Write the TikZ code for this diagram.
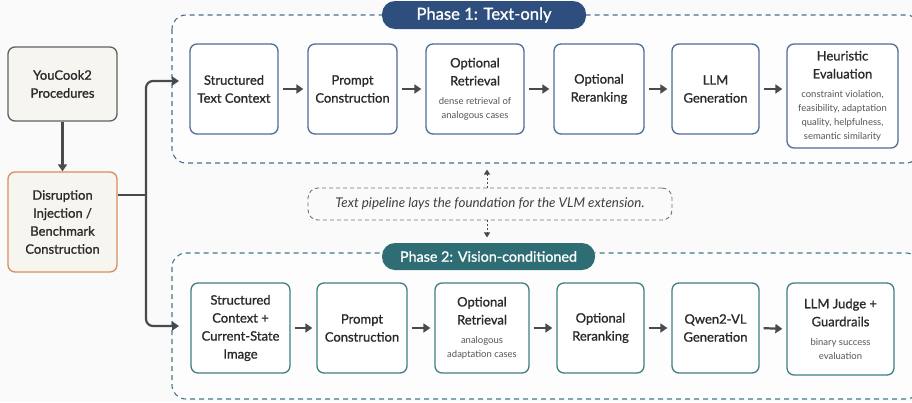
\documentclass[tikz,border=0pt]{standalone}
\usepackage{fontspec}
\usepackage{graphicx}
\setmainfont{Lato}
\newfontfamily\titlefont{Lato}[FakeBold=1]
\usetikzlibrary{arrows.meta}
\definecolor{pblue}{HTML}{2E4F7E}
\definecolor{bblue}{HTML}{4E6C97}
\definecolor{pteal}{HTML}{2E6D74}
\definecolor{bteal}{HTML}{3F7E86}
\definecolor{darr}{HTML}{4A4A4E}
\definecolor{orng}{HTML}{DA8C5C}
\definecolor{beige}{HTML}{F7F5F0}
\definecolor{txt}{HTML}{2A2A2A}
\definecolor{subt}{HTML}{555555}
\definecolor{notec}{HTML}{3F3F44}
\definecolor{bg}{HTML}{FAFAFA}
\newcommand{\subl}[1]{{\normalfont\fontsize{9.5}{11}\selectfont\color{subt}#1}}
\tikzset{
  x=1pt, y=-1pt,
  box/.style={draw, line width=1.3pt, rounded corners=7pt, fill=white, align=center,
    text=txt, font=\titlefont\fontsize{13}{18}\selectfont, inner sep=1pt},
  bA/.style={box, draw=bblue},
  bB/.style={box, draw=bteal},
  srcbox/.style={box, fill=beige},
  flow/.style={draw=darr, line width=2.2pt, -{Triangle[length=7pt,width=9pt]},
    shorten <=4pt, shorten >=4pt},
  feed/.style={draw=darr, line width=2.2pt, -{Triangle[length=7pt,width=9pt]}, rounded corners=7pt},
  cont/.style={dash pattern=on 5pt off 4pt, line width=1.1pt, rounded corners=14pt},
  pill/.style={rounded corners=13pt, text=white, font=\titlefont\fontsize{16}{19}\selectfont, inner sep=0pt},
  note/.style={draw=gray!90!black, dash pattern=on 4pt off 3pt, line width=0.9pt, rounded corners=10pt,
    font=\itshape\fontsize{13}{15}\selectfont, text=notec},
  dflow/.style={draw=darr, dash pattern=on 2pt off 2pt, line width=0.9pt, -{Triangle[length=5pt,width=6pt]}}
}
\begin{document}
\begin{tikzpicture}
\useasboundingbox[fill=bg] (0,0) rectangle (912,402);
% containers
\draw[cont, draw=bblue, fill=white!60!bg] (172,15) rectangle (920,163);
\draw[cont, draw=bteal, fill=white!60!bg] (172,253) rectangle (920,399);
\node[pill, fill=pblue, minimum width=204pt, minimum height=28pt] (p1) at (484,15) {\resizebox{135pt}{!}{Phase 1: Text-only}};
\node[pill, fill=pteal, minimum width=213pt, minimum height=27pt] (p2) at (488.5,256.5) {\resizebox{177pt}{!}{Phase 2: Vision-conditioned}};
% source boxes
\node[srcbox, draw=gray!75!black, minimum width=109pt, minimum height=74pt] (yc) at (62.5,84) {YouCook2\\Procedures};
\node[srcbox, draw=orng, minimum width=109pt, minimum height=100pt] (dis) at (62.5,222) {Disruption\\Injection /\\Benchmark\\Construction};
% phase 1 boxes
\node[bA, minimum width=88pt, minimum height=90pt] (t1) at (234,89) {Structured\\Text Context};
\node[bA, minimum width=89pt, minimum height=90pt] (t2) at (352.5,89) {Prompt\\Construction};
\node[bA, minimum width=98pt, minimum height=90pt] (t3) at (475,89) {Optional\\Retrieval\\[1pt]\subl{dense retrieval of}\\[-4pt]\subl{analogous cases}};
\node[bA, minimum width=90pt, minimum height=90pt] (t4) at (599,89) {Optional\\Reranking};
\node[bA, minimum width=87pt, minimum height=90pt] (t5) at (715.5,89) {LLM\\Generation};
\node[bA, minimum width=111pt, minimum height=104pt] (t6) at (842.5,96) {Heuristic\\Evaluation\\[1pt]\subl{constraint violation,}\\[-4pt]\subl{feasibility, adaptation}\\[-4pt]\subl{quality, helpfulness,}\\[-4pt]\subl{semantic similarity}};
% phase 2 boxes
\node[bB, minimum width=99pt, minimum height=90pt] (v1) at (240.5,328) {Structured\\Context +\\Current-State\\Image};
\node[bB, minimum width=90pt, minimum height=90pt] (v2) at (362,328) {Prompt\\Construction};
\node[bB, minimum width=94pt, minimum height=90pt] (v3) at (482,328) {Optional\\Retrieval\\[1pt]\subl{analogous}\\[-4pt]\subl{adaptation cases}};
\node[bB, minimum width=87pt, minimum height=90pt] (v4) at (600.5,328) {Optional\\Reranking};
\node[bB, minimum width=87pt, minimum height=90pt] (v5) at (715.5,328) {Qwen2-VL\\Generation};
\node[bB, minimum width=107pt, minimum height=92pt] (v6) at (840.5,329) {LLM Judge +\\Guardrails\\[1pt]\subl{binary success}\\[-4pt]\subl{evaluation}};
% note
\node[note, minimum width=364pt, minimum height=32pt] (nt) at (490,204) {\resizebox{309pt}{!}{Text pipeline lays the foundation for the VLM extension.}};
% flows
\foreach \a/\b in {t1/t2,t2/t3,t3/t4,t4/t5,v1/v2,v2/v3,v3/v4,v4/v5,v5/v6}
  \draw[flow] (\a.east) -- (\b.west);
\draw[flow] (t5.east) -- (t5.east -| t6.west);
\draw[draw=darr, line width=2.2pt, -{Triangle[length=7pt,width=9pt]}] (yc.south) -- (dis.north);
\coordinate (j) at (146,195);
\coordinate (e1) at (179,81);
\coordinate (e2) at (179,326);
\draw[draw=darr, line width=2.2pt] (dis.east |- j) -- (j);
\draw[feed] (j) |- (e1);
\draw[feed] (j) |- (e2);
\draw[dflow] ([xshift=-3pt]nt.north) -- ++(0,-18);
\draw[dflow] ([xshift=-3pt]nt.south) -- ++(0,17);
\end{tikzpicture}
\end{document}
